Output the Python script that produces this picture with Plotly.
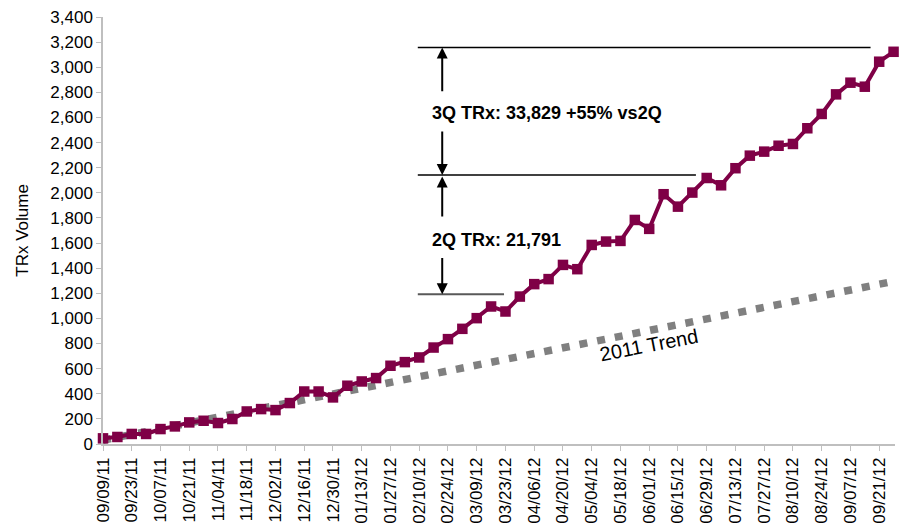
import plotly.graph_objects as go

dates = ["09/09/11", "09/16/11", "09/23/11", "09/30/11", "10/07/11", "10/14/11", "10/21/11", "10/28/11",
         "11/04/11", "11/11/11", "11/18/11", "11/25/11", "12/02/11", "12/09/11", "12/16/11", "12/23/11",
         "12/30/11", "01/06/12", "01/13/12", "01/20/12", "01/27/12", "02/03/12", "02/10/12", "02/17/12",
         "02/24/12", "03/02/12", "03/09/12", "03/16/12", "03/23/12", "03/30/12", "04/06/12", "04/13/12",
         "04/20/12", "04/27/12", "05/04/12", "05/11/12", "05/18/12", "05/25/12", "06/01/12", "06/08/12",
         "06/15/12", "06/22/12", "06/29/12", "07/06/12", "07/13/12", "07/20/12", "07/27/12", "08/03/12",
         "08/10/12", "08/17/12", "08/24/12", "08/31/12", "09/07/12", "09/14/12", "09/21/12", "09/28/12"]

trx_volume = [45, 56, 80, 80, 119, 140, 172, 185, 167, 199, 259, 278, 270, 326,
              418, 418, 371, 464, 498, 525, 623, 652, 689, 768, 835, 917, 1002, 1095,
              1055, 1174, 1273, 1313, 1426, 1392, 1585, 1612, 1617, 1784, 1713, 1989, 1890, 2002,
              2118, 2060, 2196, 2296, 2328, 2375, 2389, 2514, 2628, 2784, 2877, 2845, 3044, 3123]

trend_x = [dates[0], dates[-1]]
trend_y = [30, 1295]

y_ticks = list(range(0, 3401, 200))
y_tick_text = [f"{v:,}" for v in y_ticks]
x_ticks = dates[::2]

q3_level = 3158
q2_level = 2142
q1_level = 1193

FONT = "Liberation Sans, Arial, sans-serif"
MAROON = "#7F0046"

fig = go.Figure()

fig.add_trace(go.Scatter(
    x=trend_x, y=trend_y, mode="lines",
    line=dict(color="#808080", width=7.5, dash="8px,10px"),
    hoverinfo="skip", showlegend=False,
))

fig.add_trace(go.Scatter(
    x=dates, y=trx_volume, mode="lines+markers",
    line=dict(color=MAROON, width=4),
    marker=dict(symbol="square", size=10.5, color=MAROON),
    cliponaxis=False, showlegend=False,
))

# horizontal reference lines
fig.add_shape(type="line", xref="x", yref="y", x0=21.9, x1=53.4, y0=q3_level, y1=q3_level,
              line=dict(color="black", width=1.5))
fig.add_shape(type="line", xref="x", yref="y", x0=21.9, x1=41.25, y0=q2_level, y1=q2_level,
              line=dict(color="black", width=1.5))
fig.add_shape(type="line", xref="x", yref="y", x0=21.9, x1=27.9, y0=q1_level, y1=q1_level,
              line=dict(color="#595959", width=2))

arrow_x = 23.6
arrows = [(q3_level, 2797), (q2_level, 2501), (q2_level - 12, 1800), (q1_level, 1492)]
for head, tail in arrows:
    fig.add_annotation(x=arrow_x, y=head, ax=arrow_x, ay=tail, xref="x", yref="y",
                       axref="x", ayref="y", text="", showarrow=True,
                       arrowhead=2, arrowsize=1.1, arrowwidth=2, arrowcolor="black", standoff=0)

fig.add_annotation(x=22.75, y=2636, xref="x", yref="y", xanchor="left", yanchor="middle",
                   text="<b>3Q TRx: 33,829 +55% vs2Q</b>", showarrow=False,
                   font=dict(family=FONT, size=18, color="black"))
fig.add_annotation(x=22.75, y=1625, xref="x", yref="y", xanchor="left", yanchor="middle",
                   text="<b>2Q TRx: 21,791</b>", showarrow=False,
                   font=dict(family=FONT, size=18, color="black"))
fig.add_annotation(x=38.0, y=790, xref="x", yref="y", xanchor="center", yanchor="middle",
                   text="2011 Trend", showarrow=False, textangle=-11,
                   font=dict(family=FONT, size=20, color="black"))

# y-axis title
fig.add_annotation(x=-0.102, y=0.5, xref="paper", yref="paper", xanchor="center", yanchor="middle",
                   text="TRx Volume", showarrow=False, textangle=-90,
                   font=dict(family=FONT, size=17, color="black"))

fig.update_layout(
    width=912, height=525,
    margin=dict(l=103, r=17, t=17, b=81),
    plot_bgcolor="white", paper_bgcolor="white",
    font=dict(family=FONT, size=17, color="black"),
    showlegend=False,
)

fig.update_xaxes(
    type="category", categoryorder="array", categoryarray=dates,
    range=[0, 55.1], automargin=False,
    tickmode="array", tickvals=x_ticks, ticktext=x_ticks,
    tickangle=-90, ticks="outside", ticklen=5, tickcolor="#BFBFBF",
    showline=True, linecolor="#BFBFBF", linewidth=1.5,
    showgrid=False, zeroline=False,
    tickfont=dict(family=FONT, size=17, color="black"),
)
fig.update_yaxes(
    range=[0, 3400], automargin=False,
    tickmode="array", tickvals=y_ticks, ticktext=y_tick_text,
    ticks="outside", ticklen=5, tickcolor="#BFBFBF",
    showline=True, linecolor="#BFBFBF", linewidth=1.5,
    showgrid=False, zeroline=False,
    tickfont=dict(family=FONT, size=17, color="black"),
)

fig.write_html("out.html")
